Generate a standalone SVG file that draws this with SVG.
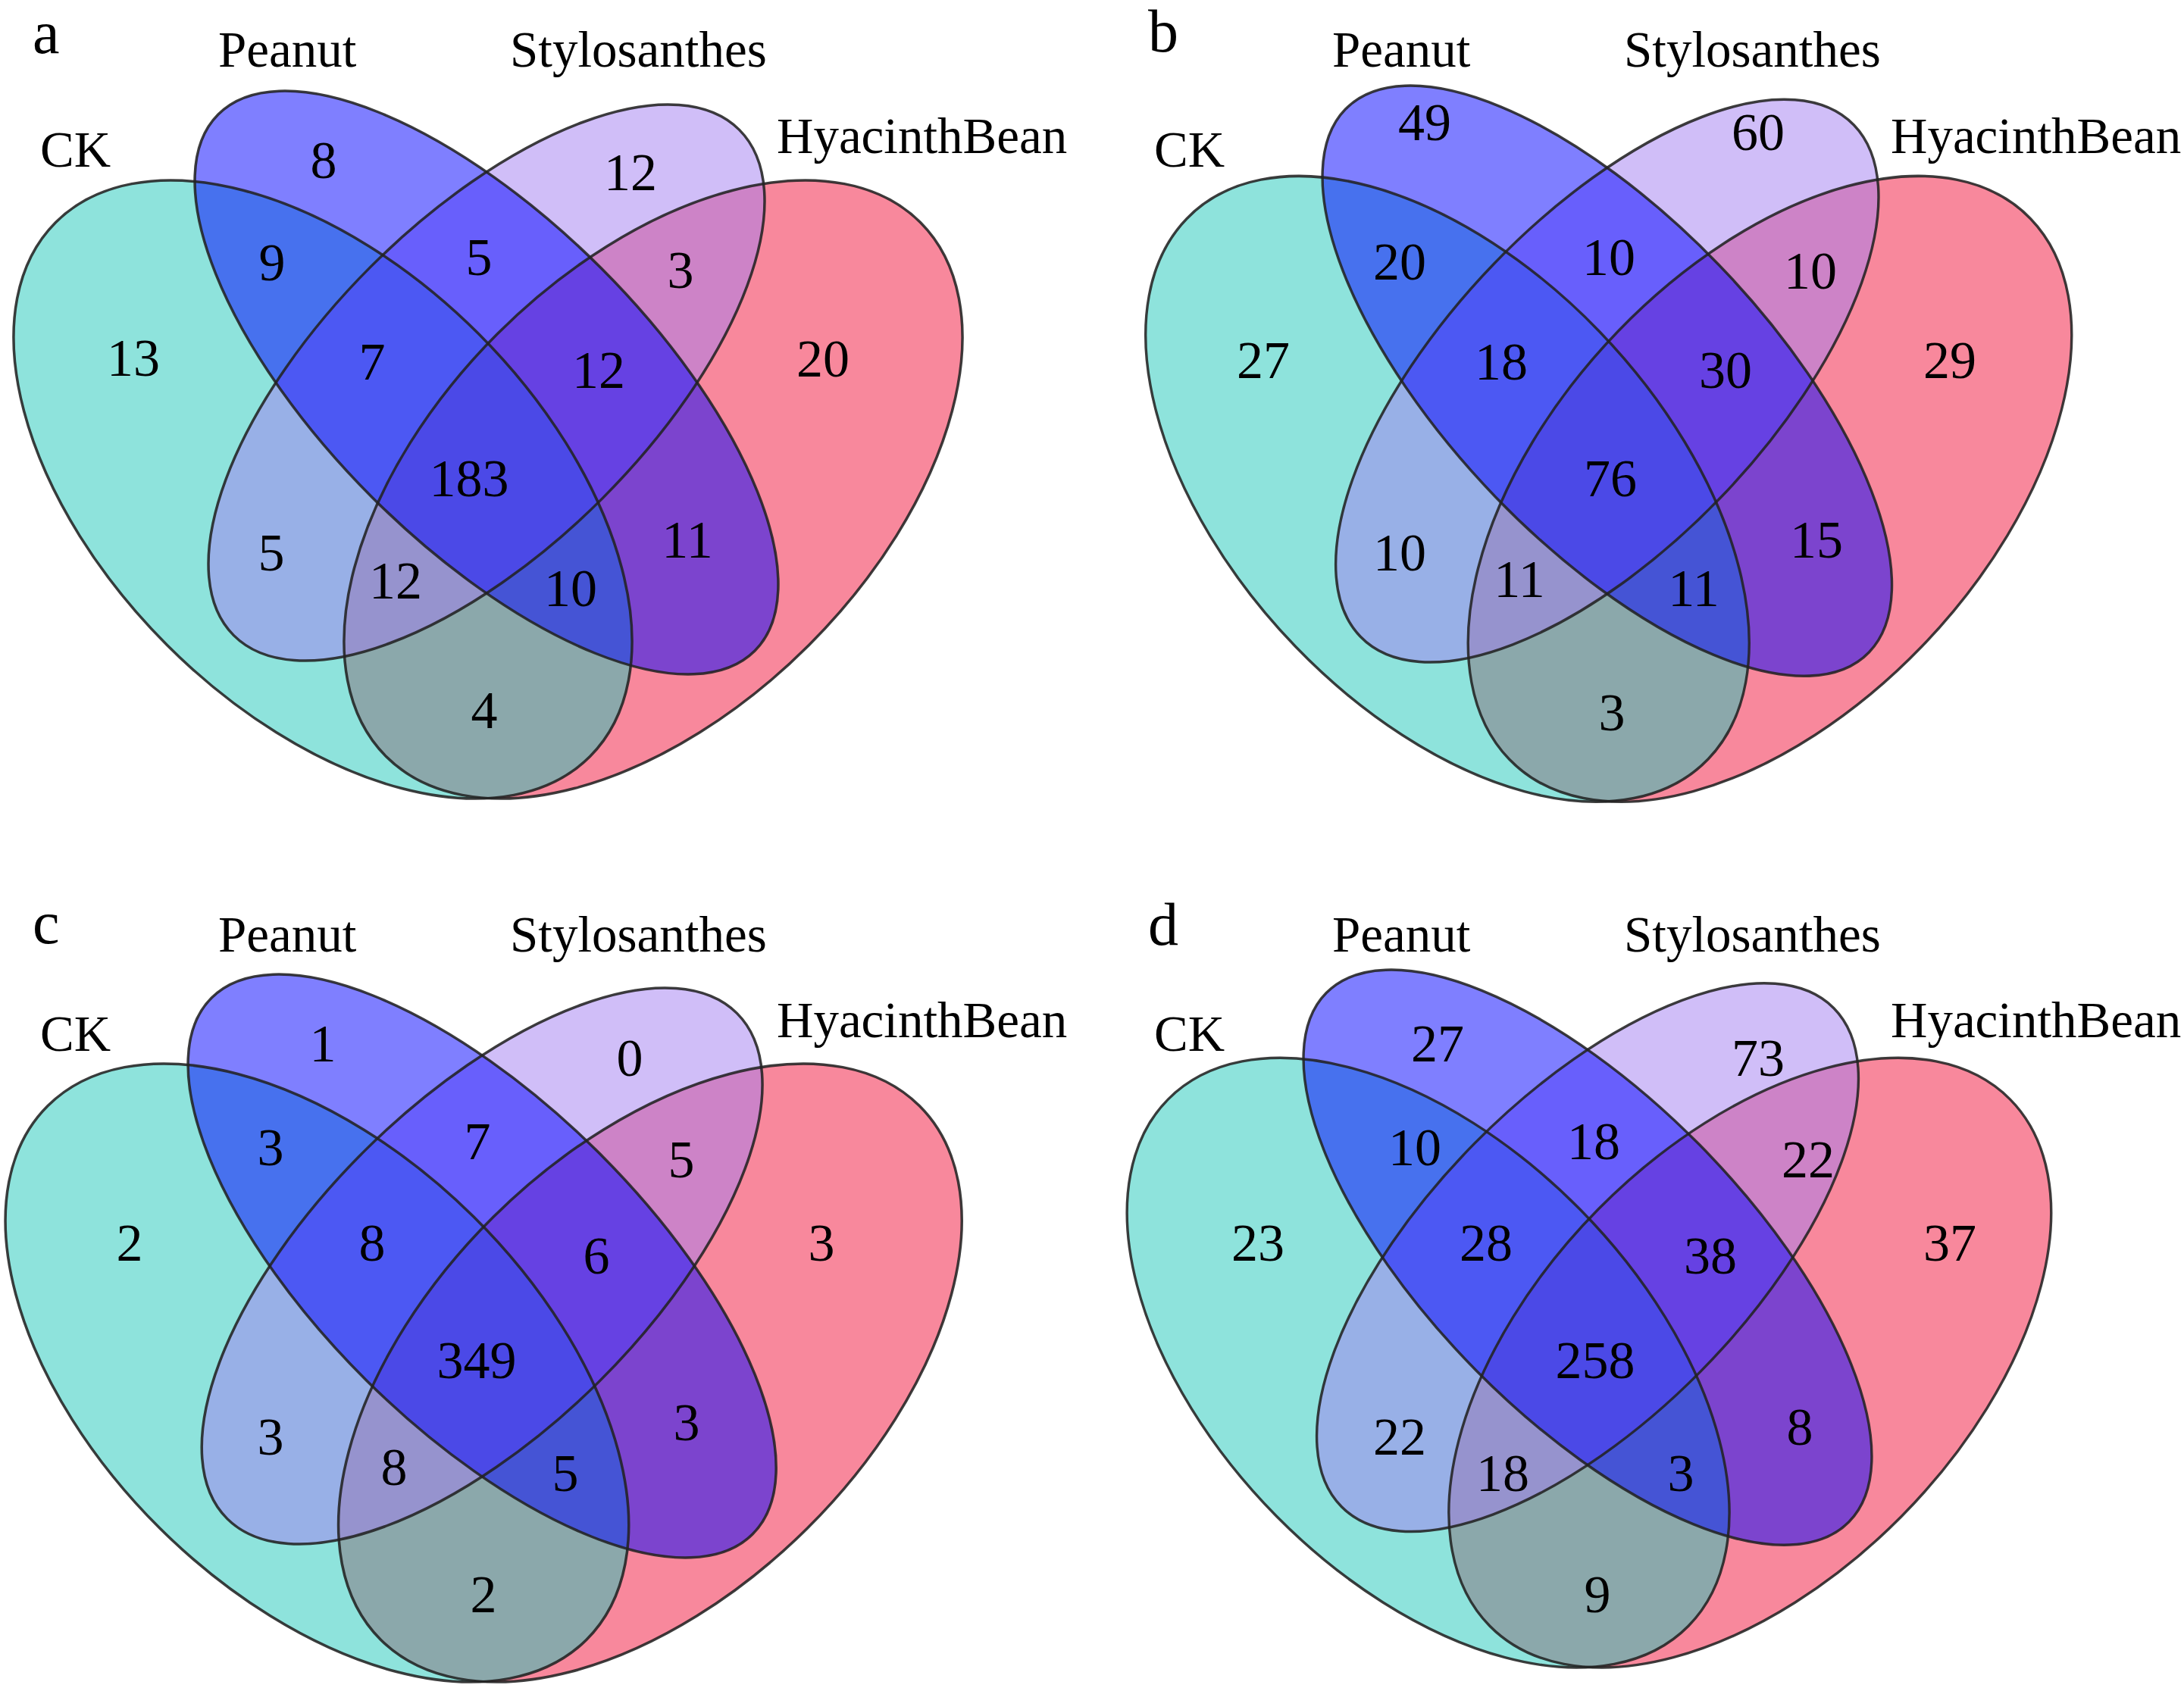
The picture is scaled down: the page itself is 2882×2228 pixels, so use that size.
<svg xmlns="http://www.w3.org/2000/svg" xmlns:xlink="http://www.w3.org/1999/xlink" width="2882" height="2228" viewBox="0 0 2882 2228">
<style>
.hb{fill:#F11139;fill-opacity:.5}
.ck{fill:#1DC7B9;fill-opacity:.5}
.st{fill:#A17DF1;fill-opacity:.5}
.pn{fill:#0000FF;fill-opacity:.5}
.ol{fill:none;stroke:#222;stroke-width:3.5;stroke-opacity:.88;vector-effect:non-scaling-stroke}
text{font-family:"Liberation Serif","Times New Roman",serif;fill:#000}
.n{font-size:70px;text-anchor:middle}
.lb{font-size:67px}
.pl{font-size:80px}
</style>
<defs>
<ellipse id="eHB" cx="862" cy="646" rx="498.5" ry="290.6" transform="rotate(-45 862 646)"/>
<ellipse id="eCK" cx="426" cy="646" rx="498.5" ry="290.6" transform="rotate(45 426 646)"/>
<ellipse id="eST" cx="642" cy="505" rx="471.8" ry="216.2" transform="rotate(-45 642 505)"/>
<ellipse id="ePN" cx="642" cy="505" rx="500.7" ry="213.8" transform="rotate(45 642 505)"/>
<g id="venn">
<use xlink:href="#eHB" class="hb"/>
<use xlink:href="#eCK" class="ck"/>
<use xlink:href="#eST" class="st"/>
<use xlink:href="#ePN" class="pn"/>
<use xlink:href="#eHB" class="ol"/>
<use xlink:href="#eCK" class="ol"/>
<use xlink:href="#eST" class="ol"/>
<use xlink:href="#ePN" class="ol"/>
</g>
</defs>
<rect width="2882" height="2228" fill="#fff"/>

<g id="panel-a">
<g id="a-sets"><use xlink:href="#venn"/></g>
<text class="pl" x="43" y="70">a</text>
<g id="a-CK"><text class="lb" x="53" y="220">CK</text></g>
<g id="a-Peanut"><text class="lb" x="288" y="88">Peanut</text></g>
<g id="a-Stylosanthes"><text class="lb" x="673" y="88">Stylosanthes</text></g>
<g id="a-HyacinthBean"><text class="lb" x="1025" y="202">HyacinthBean</text></g>
<g id="a-counts">
<text class="n" x="427" y="235">8</text>
<text class="n" x="832" y="251">12</text>
<text class="n" x="359" y="370">9</text>
<text class="n" x="632" y="363">5</text>
<text class="n" x="898" y="380">3</text>
<text class="n" x="176" y="496">13</text>
<text class="n" x="491" y="501">7</text>
<text class="n" x="790" y="512">12</text>
<text class="n" x="1086" y="497">20</text>
<text class="n" x="619" y="655">183</text>
<text class="n" x="358" y="753">5</text>
<text class="n" x="522" y="790">12</text>
<text class="n" x="753" y="800">10</text>
<text class="n" x="907" y="736">11</text>
<text class="n" x="639" y="961">4</text>
</g>
</g>

<g id="panel-b">
<g id="b-sets" transform="translate(1494.2,-8.4) scale(0.976,1.012)"><use xlink:href="#venn"/></g>
<text class="pl" x="1515" y="68">b</text>
<g id="b-CK"><text class="lb" x="1523" y="220">CK</text></g>
<g id="b-Peanut"><text class="lb" x="1758" y="88">Peanut</text></g>
<g id="b-Stylosanthes"><text class="lb" x="2143" y="88">Stylosanthes</text></g>
<g id="b-HyacinthBean"><text class="lb" x="2495" y="202">HyacinthBean</text></g>
<g id="b-counts">
<text class="n" x="1880" y="185">49</text>
<text class="n" x="2320" y="198">60</text>
<text class="n" x="1847" y="369">20</text>
<text class="n" x="2123" y="363">10</text>
<text class="n" x="2389" y="381">10</text>
<text class="n" x="1667" y="499">27</text>
<text class="n" x="1981" y="501">18</text>
<text class="n" x="2277" y="512">30</text>
<text class="n" x="2573" y="499">29</text>
<text class="n" x="2125" y="655">76</text>
<text class="n" x="1847" y="753">10</text>
<text class="n" x="2005" y="788">11</text>
<text class="n" x="2235" y="800">11</text>
<text class="n" x="2397" y="736">15</text>
<text class="n" x="2127" y="964">3</text>
</g>
</g>

<g id="panel-c">
<g id="c-sets" transform="translate(-11,1166) scale(1.008,1)"><use xlink:href="#venn"/></g>
<text class="pl" x="43" y="1245">c</text>
<g id="c-CK"><text class="lb" x="53" y="1387">CK</text></g>
<g id="c-Peanut"><text class="lb" x="288" y="1256">Peanut</text></g>
<g id="c-Stylosanthes"><text class="lb" x="673" y="1256">Stylosanthes</text></g>
<g id="c-HyacinthBean"><text class="lb" x="1025" y="1369">HyacinthBean</text></g>
<g id="c-counts">
<text class="n" x="426" y="1401">1</text>
<text class="n" x="831" y="1420">0</text>
<text class="n" x="357" y="1538">3</text>
<text class="n" x="630" y="1530">7</text>
<text class="n" x="899" y="1554">5</text>
<text class="n" x="171" y="1664">2</text>
<text class="n" x="491" y="1664">8</text>
<text class="n" x="787" y="1681">6</text>
<text class="n" x="1084" y="1664">3</text>
<text class="n" x="629" y="1819">349</text>
<text class="n" x="357" y="1920">3</text>
<text class="n" x="520" y="1960">8</text>
<text class="n" x="746" y="1968">5</text>
<text class="n" x="906" y="1901">3</text>
<text class="n" x="638" y="2128">2</text>
</g>
</g>

<g id="panel-d">
<g id="d-sets" transform="translate(1469.7,1161.7) scale(0.974,0.986)"><use xlink:href="#venn"/></g>
<text class="pl" x="1515" y="1247">d</text>
<g id="d-CK"><text class="lb" x="1523" y="1387">CK</text></g>
<g id="d-Peanut"><text class="lb" x="1758" y="1256">Peanut</text></g>
<g id="d-Stylosanthes"><text class="lb" x="2143" y="1256">Stylosanthes</text></g>
<g id="d-HyacinthBean"><text class="lb" x="2495" y="1369">HyacinthBean</text></g>
<g id="d-counts">
<text class="n" x="1897" y="1401">27</text>
<text class="n" x="2320" y="1420">73</text>
<text class="n" x="1867" y="1538">10</text>
<text class="n" x="2103" y="1530">18</text>
<text class="n" x="2386" y="1554">22</text>
<text class="n" x="1660" y="1664">23</text>
<text class="n" x="1961" y="1664">28</text>
<text class="n" x="2257" y="1681">38</text>
<text class="n" x="2573" y="1664">37</text>
<text class="n" x="2105" y="1819">258</text>
<text class="n" x="1847" y="1920">22</text>
<text class="n" x="1983" y="1968">18</text>
<text class="n" x="2218" y="1968">3</text>
<text class="n" x="2375" y="1907">8</text>
<text class="n" x="2108" y="2128">9</text>
</g>
</g>
</svg>
